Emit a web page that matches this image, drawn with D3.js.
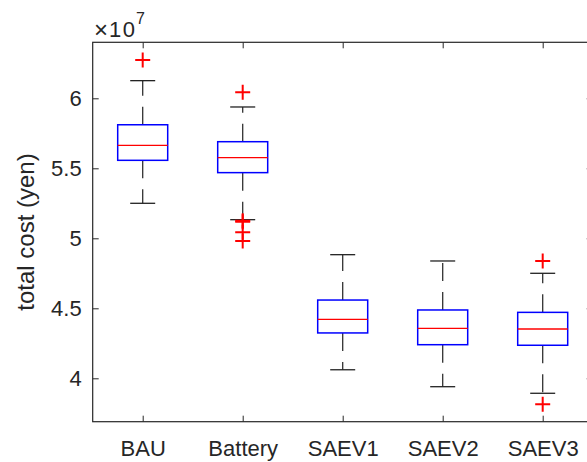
<!DOCTYPE html>
<html>
<head>
<meta charset="utf-8">
<script src="https://cdn.jsdelivr.net/npm/d3@7"></script>
<style>
  body { margin: 0; background: #fff; }
  svg { display: block; font-family: "Liberation Sans", Arial, sans-serif; }
  .tick text { fill: #262626; }
</style>
</head>
<body>
<svg id="chart" width="587" height="462"></svg>
<script>

// box plot summaries, values in units of 1e7 yen
let categories = ["BAU", "Battery", "SAEV1", "SAEV2", "SAEV3"]
let lowerWhisker = [5.25, 5.133, 4.061, 3.94, 3.893]
let q1 = [5.557, 5.469, 4.324, 4.24, 4.236]
let medians = [5.664, 5.576, 4.421, 4.357, 4.352]
let q3 = [5.811, 5.69, 4.559, 4.488, 4.471]
let upperWhisker = [6.126, 5.938, 4.883, 4.838, 4.75]
let outliers = [
    [6.274],
    [6.043, 5.126, 5.118, 5.043, 4.981],
    [],
    [],
    [4.838, 3.814]
]
let yTicks = [4, 4.5, 5, 5.5, 6]

let data = categories.map((c, i) => ({
    name: c,
    lo: lowerWhisker[i],
    q1: q1[i],
    med: medians[i],
    q3: q3[i],
    hi: upperWhisker[i],
    out: outliers[i]
}))

let plotLeft = 92.7, plotRight = 592.7, plotTop = 42.3, plotBottom = 421.7
let axisColor = "#262626"

let svg = d3.select("#chart")

let xScale = d3.scalePoint()
    .domain(categories)
    .range([plotLeft, plotRight])
    .padding(0.5)

let yScale = d3.scaleLinear()
    .domain([3.69, 6.4])
    .range([plotBottom, plotTop])

let step = xScale.step()
let boxW = step * 0.5
let capW = step * 0.25

// axes (MATLAB style ticks pointing inward)
let yAxis = svg.append("g")
    .attr("transform", `translate(${plotLeft},0)`)
    .call(d3.axisLeft(yScale).tickValues(yTicks).tickFormat(d3.format("")).tickSizeInner(-6).tickSizeOuter(0).tickPadding(11))
let yAxisR = svg.append("g")
    .attr("transform", `translate(${plotRight},0)`)
    .call(d3.axisRight(yScale).tickValues(yTicks).tickFormat("").tickSizeInner(-6).tickSizeOuter(0))
let xAxis = svg.append("g")
    .attr("transform", `translate(0,${plotBottom})`)
    .call(d3.axisBottom(xScale).tickSizeInner(-6).tickSizeOuter(0).tickPadding(19))
let xAxisT = svg.append("g")
    .attr("transform", `translate(0,${plotTop})`)
    .call(d3.axisTop(xScale).tickFormat("").tickSizeInner(-6).tickSizeOuter(0))

for (let ax of [yAxis, yAxisR, xAxis, xAxisT]) {
    ax.attr("font-size", 22).attr("font-family", null)
    ax.selectAll("line").attr("stroke", axisColor)
    ax.select(".domain").remove()
}

svg.append("rect")
    .attr("x", plotLeft)
    .attr("y", plotTop)
    .attr("width", plotRight - plotLeft)
    .attr("height", plotBottom - plotTop)
    .attr("fill", "none")
    .attr("stroke", axisColor)
    .attr("stroke-width", 1.2)

// exponent label
svg.append("text")
    .attr("x", 94)
    .attr("y", 38)
    .attr("fill", axisColor)
    .attr("font-size", 24)
    .text("\u00d7")
svg.append("text")
    .attr("x", 109)
    .attr("y", 36.7)
    .attr("fill", axisColor)
    .attr("font-size", 22)
    .attr("letter-spacing", 1.5)
    .text("10")
svg.append("text")
    .attr("x", 136)
    .attr("y", 23.5)
    .attr("fill", axisColor)
    .attr("font-size", 16)
    .text("7")

svg.append("text")
    .attr("transform", `translate(34,${(plotTop + plotBottom) / 2}) rotate(-90)`)
    .attr("text-anchor", "middle")
    .attr("fill", axisColor)
    .attr("font-size", 24)
    .text("total cost (yen)")

let boxes = svg.selectAll("g.box").data(data)
    .enter()
    .append("g")
    .attr("class", "box")

// whiskers, dashed from the box outwards
boxes.append("line")
    .attr("x1", d => xScale(d.name)).attr("x2", d => xScale(d.name))
    .attr("y1", d => yScale(d.q3)).attr("y2", d => yScale(d.hi))
    .attr("stroke", "#333").attr("stroke-width", 1.3)
    .attr("stroke-dasharray", "18,11")
boxes.append("line")
    .attr("x1", d => xScale(d.name)).attr("x2", d => xScale(d.name))
    .attr("y1", d => yScale(d.q1)).attr("y2", d => yScale(d.lo))
    .attr("stroke", "#333").attr("stroke-width", 1.3)
    .attr("stroke-dasharray", "18,11")

// caps
boxes.selectAll("line.cap").data(d => [d.lo, d.hi].map(v => ({ name: d.name, v: v })))
    .enter()
    .append("line")
    .attr("class", "cap")
    .attr("x1", d => xScale(d.name) - capW / 2)
    .attr("x2", d => xScale(d.name) + capW / 2)
    .attr("y1", d => yScale(d.v))
    .attr("y2", d => yScale(d.v))
    .attr("stroke", "#222").attr("stroke-width", 1.3)

boxes.append("rect")
    .attr("x", d => xScale(d.name) - boxW / 2)
    .attr("y", d => yScale(d.q3))
    .attr("width", boxW)
    .attr("height", d => yScale(d.q1) - yScale(d.q3))
    .attr("fill", "none")
    .attr("stroke", "#0000ff")
    .attr("stroke-width", 1.5)

boxes.append("line")
    .attr("x1", d => xScale(d.name) - boxW / 2)
    .attr("x2", d => xScale(d.name) + boxW / 2)
    .attr("y1", d => yScale(d.med))
    .attr("y2", d => yScale(d.med))
    .attr("stroke", "#ff0000")
    .attr("stroke-width", 1.3)

// outliers as red plus signs
let pts = boxes.selectAll("path.out").data(d => d.out.map(v => ({ name: d.name, v: v })))
    .enter()
    .append("path")
    .attr("class", "out")
    .attr("d", d => {
        let cx = xScale(d.name), cy = yScale(d.v), r = 7.5
        return `M${cx - r},${cy}H${cx + r}M${cx},${cy - r}V${cy + r}`
    })
    .attr("stroke", "#ff0000")
    .attr("stroke-width", 2)
    .attr("fill", "none")

</script>
</body>
</html>
